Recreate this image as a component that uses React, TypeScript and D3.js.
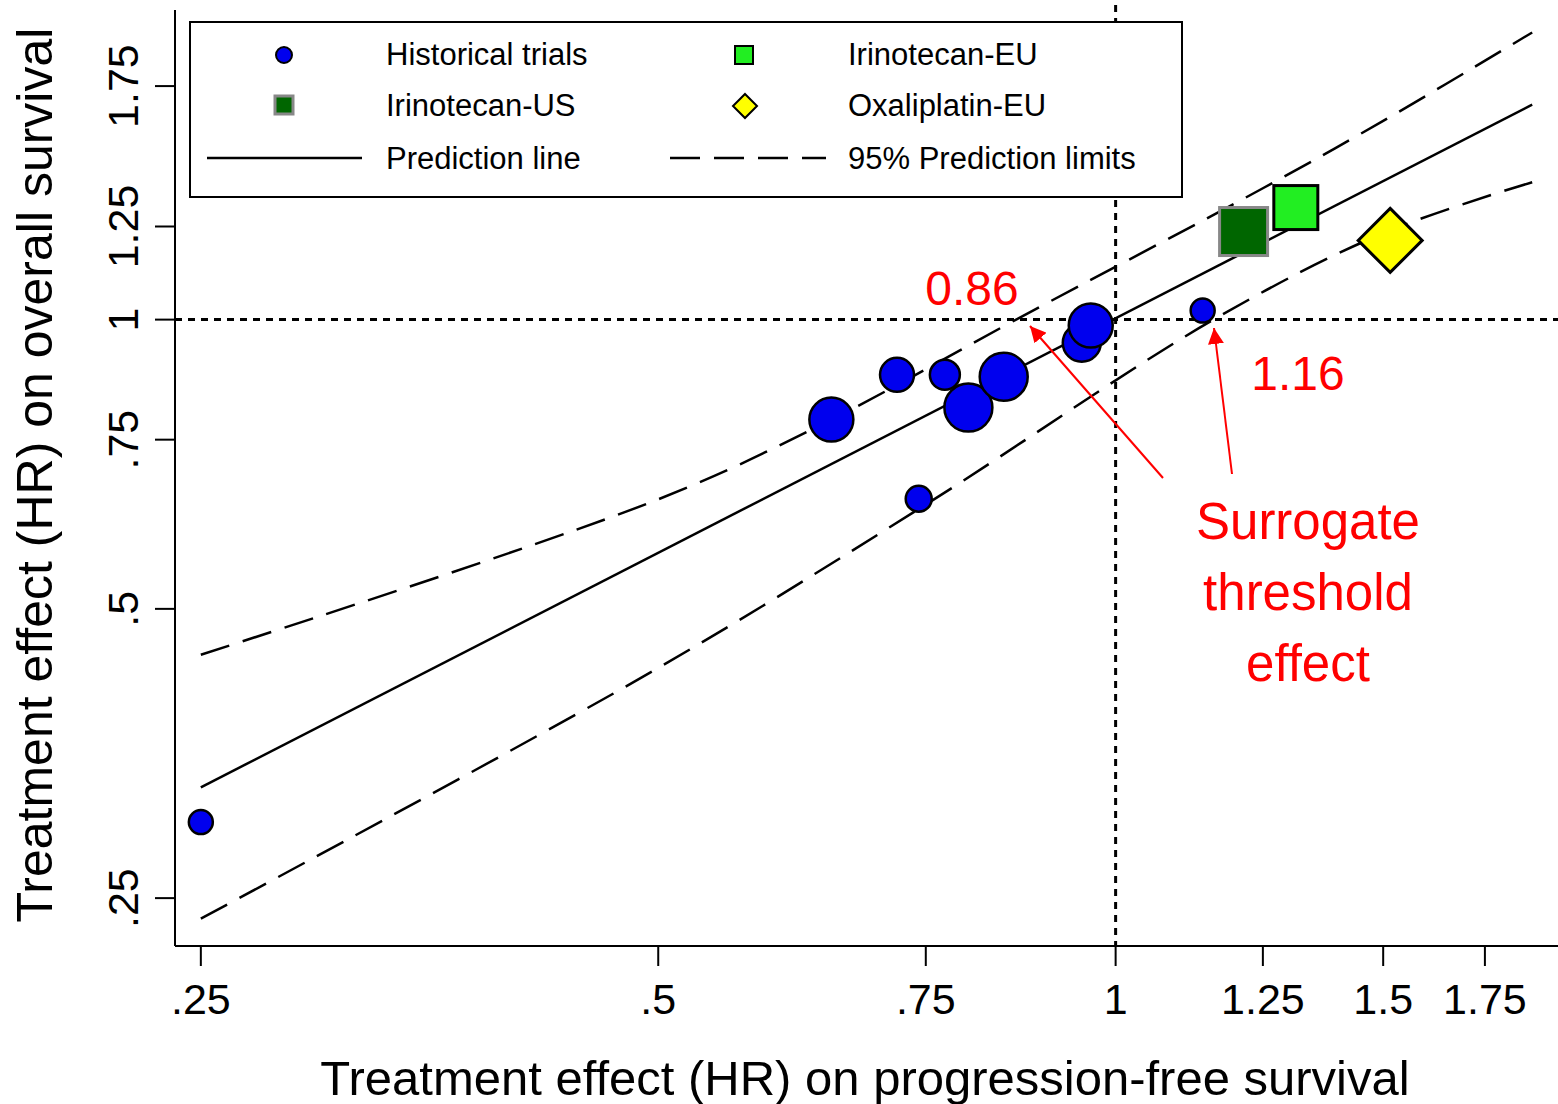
import React from 'react';
import * as d3 from 'd3';

// Historical trials: HR on PFS, HR on OS, marker radius (px, trial weight)
const histX = [0.25, 0.65, 0.718, 0.772, 0.80, 0.844, 0.742, 0.95, 0.963, 1.141];
const histY = [0.30, 0.787, 0.876, 0.876, 0.81, 0.872, 0.651, 0.946, 0.986, 1.022];
const histR = [12, 22, 17, 15, 24, 24, 13, 19, 22, 12];

const predX = [0.25, 1.88];
const predY = [0.326, 1.674];
const upperX = [0.25, 0.5, 0.65, 0.86, 1.25, 1.5, 1.88];
const upperY = [0.448, 0.65, 0.787, 1.0, 1.37, 1.61, 1.99];
const lowerX = [0.25, 0.5, 0.75, 1.16, 1.5, 1.88];
const lowerY = [0.238, 0.434, 0.642, 1.0, 1.23, 1.39];

const xTicks = [0.25, 0.5, 0.75, 1, 1.25, 1.5, 1.75];
const yTicks = [0.25, 0.5, 0.75, 1, 1.25, 1.75];
const tickLabel = (v: number) => (v < 1 ? String(v).replace(/^0/, '') : String(v));

const W = 1558, H = 1104;
const L = 175, R = 1558, T = 10, B = 946;
const font = 'Liberation Sans, Arial, sans-serif';

export default function App() {
  const x = d3.scaleLog().domain([0.2404, 1.955]).range([L, R]);
  const y = d3.scaleLog().domain([0.2229, 2.1]).range([B, T]);
  const toPts = (xs: number[], ys: number[]) => xs.map((v, i) => [x(v), y(ys[i])] as [number, number]);
  const line = d3.line().curve(d3.curveCatmullRom);
  const sq = (v: number, w: number, s: number, fill: string, stroke: string) => (
    <rect x={x(v) - s / 2} y={y(w) - s / 2} width={s} height={s} fill={fill} stroke={stroke} strokeWidth={3} />
  );
  return (
    <svg width={W} height={H} style={{ position: 'absolute', left: 0, top: 0, background: '#fff' }} fontFamily={font}>
      <defs>
        <marker id="ar" viewBox="0 0 10 10" refX="10" refY="5" markerWidth="8" markerHeight="8" orient="auto">
          <path d="M0,0 L10,5 L0,10 z" fill="red" />
        </marker>
      </defs>
      {/* axes */}
      <line x1={L} y1={T} x2={L} y2={B} stroke="#000" strokeWidth={2} />
      <line x1={L} y1={B} x2={R} y2={B} stroke="#000" strokeWidth={2} />
      {xTicks.map(t => (
        <g key={t}>
          <line x1={x(t)} x2={x(t)} y1={B} y2={B + 20} stroke="#000" strokeWidth={2} />
          <text x={x(t)} y={1014} fontSize={43} textAnchor="middle">{tickLabel(t)}</text>
        </g>
      ))}
      {yTicks.map(t => (
        <g key={t}>
          <line x1={L - 20} x2={L} y1={y(t)} y2={y(t)} stroke="#000" strokeWidth={2} />
          <text transform={`translate(138,${y(t)}) rotate(-90)`} fontSize={43} textAnchor="middle">{tickLabel(t)}</text>
        </g>
      ))}
      <text x={865} y={1095} fontSize={49} textAnchor="middle">Treatment effect (HR) on progression-free survival</text>
      <text transform={`translate(52,475) rotate(-90)`} fontSize={50} textAnchor="middle">Treatment effect (HR) on overall survival</text>
      {/* reference lines */}
      <line x1={x(1)} x2={x(1)} y1={T - 5} y2={B} stroke="#000" strokeWidth={3} strokeDasharray="7,6" />
      <line x1={L} x2={R} y1={y(1)} y2={y(1)} stroke="#000" strokeWidth={3} strokeDasharray="7,6" />
      {/* prediction */}
      <path d={line(toPts(predX, predY))!} fill="none" stroke="#000" strokeWidth={2.5} />
      <path d={line(toPts(upperX, upperY))!} fill="none" stroke="#000" strokeWidth={2.5} strokeDasharray="30,14" />
      <path d={line(toPts(lowerX, lowerY))!} fill="none" stroke="#000" strokeWidth={2.5} strokeDasharray="30,14" />
      {/* points */}
      {histX.map((v, i) => (
        <circle key={i} cx={x(v)} cy={y(histY[i])} r={histR[i]} fill="#0000ee" stroke="#000" strokeWidth={2.5} />
      ))}
      {sq(1.214, 1.235, 48, '#006600', '#888')}
      {sq(1.314, 1.308, 44, '#22ee22', '#000')}
      <path d={`M${x(1.516)},${y(1.209) - 32}l32,32l-32,32l-32,-32z`} fill="#ffff00" stroke="#000" strokeWidth={3} />
      {/* annotations */}
      <text x={972} y={305} fontSize={48} fill="red" textAnchor="middle">0.86</text>
      <text x={1298} y={390} fontSize={48} fill="red" textAnchor="middle">1.16</text>
      <line x1={1163} y1={478} x2={1030} y2={326} stroke="red" strokeWidth={2} markerEnd="url(#ar)" />
      <line x1={1232} y1={474} x2={1214} y2={328} stroke="red" strokeWidth={2} markerEnd="url(#ar)" />
      {['Surrogate', 'threshold', 'effect'].map((s, i) => (
        <text key={s} x={1308} y={539 + i * 71} fontSize={51} fill="red" textAnchor="middle">{s}</text>
      ))}
      {/* legend */}
      <rect x={190} y={22} width={992} height={175} fill="#fff" stroke="#000" strokeWidth={2} />
      <g fontSize={31}>
        <circle cx={284} cy={55} r={8} fill="#0000ee" stroke="#000" strokeWidth={2} />
        <text x={386} y={65}>Historical trials</text>
        <rect x={735} y={46} width={18} height={18} fill="#22ee22" stroke="#000" strokeWidth={2} />
        <text x={848} y={65}>Irinotecan-EU</text>
        <rect x={275} y={96} width={18} height={18} fill="#006600" stroke="#888" strokeWidth={3} />
        <text x={386} y={116}>Irinotecan-US</text>
        <path d="M745,94l12,12l-12,12l-12,-12z" fill="#ffff00" stroke="#000" strokeWidth={2} />
        <text x={848} y={116}>Oxaliplatin-EU</text>
        <line x1={207} x2={362} y1={158} y2={158} stroke="#000" strokeWidth={2.5} />
        <text x={386} y={169}>Prediction line</text>
        <line x1={670} x2={826} y1={158} y2={158} stroke="#000" strokeWidth={2.5} strokeDasharray="30,14" />
        <text x={848} y={169}>95% Prediction limits</text>
      </g>
    </svg>
  );
}
